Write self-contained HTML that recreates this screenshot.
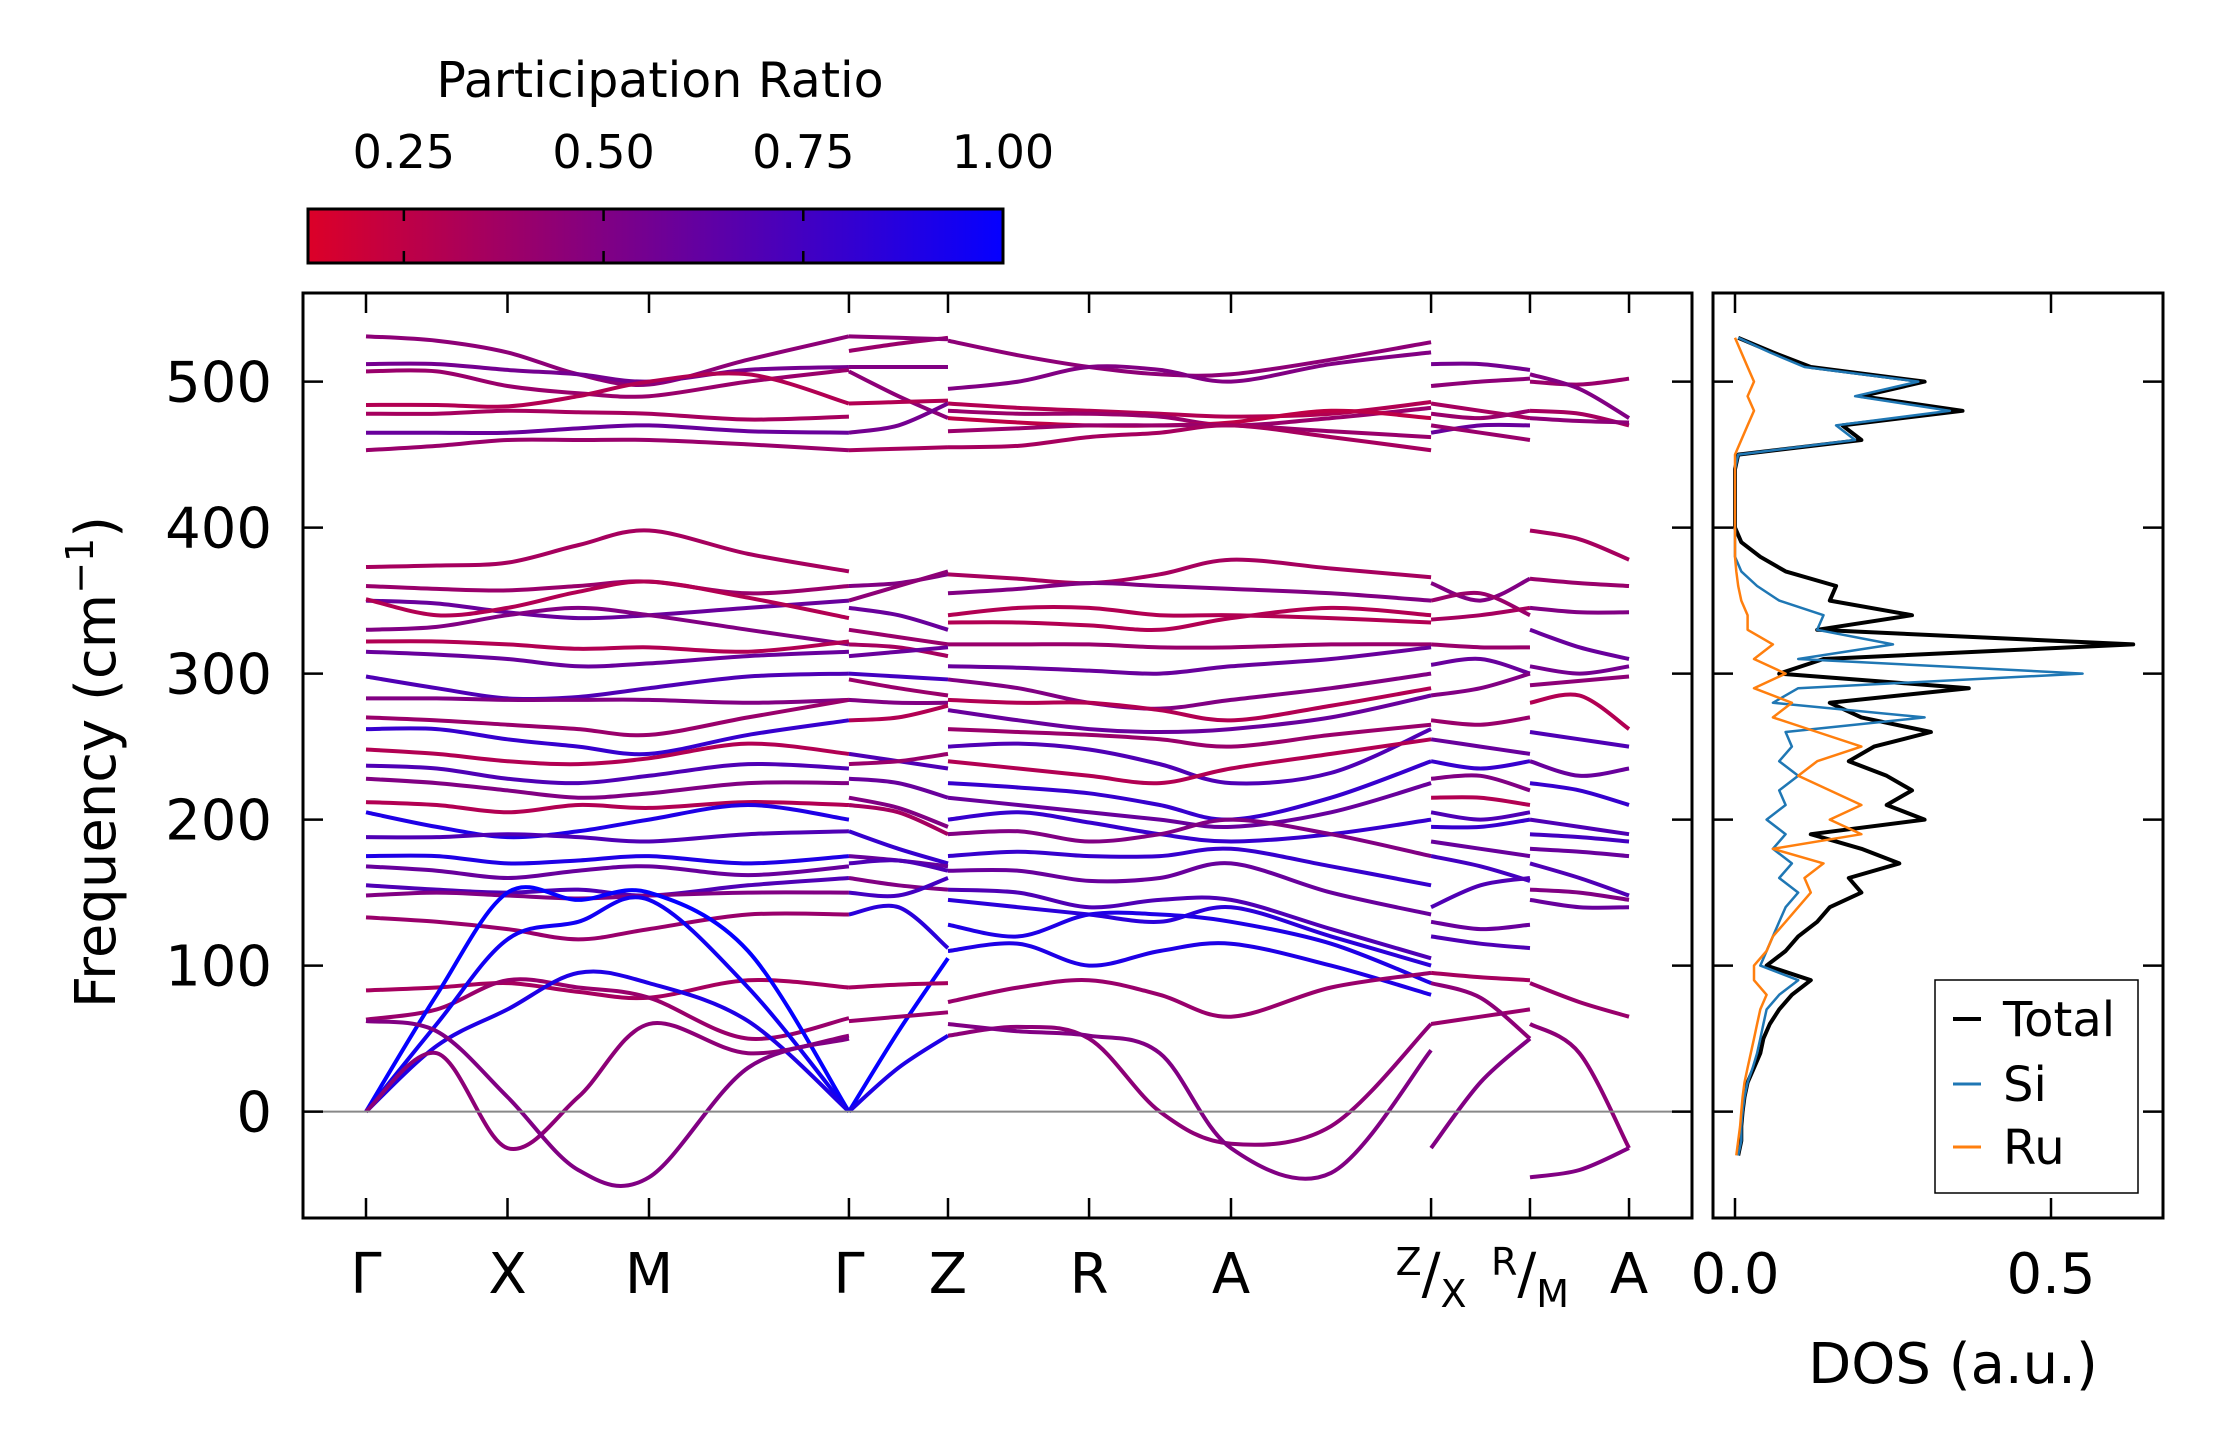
<!DOCTYPE html>
<html><head><meta charset="utf-8"><style>
html,body{margin:0;padding:0;background:#fff}
svg{display:block;font-family:"DejaVu Sans","Liberation Sans",sans-serif}
</style></head><body>
<svg id="chart" width="2222" height="1455" viewBox="0 0 2222 1455" xmlns="http://www.w3.org/2000/svg">
<defs>
<linearGradient id="cbgrad" x1="0" x2="1" y1="0" y2="0">
<stop offset="0" stop-color="rgb(220,0,40)"/><stop offset="1" stop-color="rgb(5,0,255)"/>
</linearGradient>
<clipPath id="clipMain"><rect x="303" y="293" width="1389" height="925"/></clipPath>
<clipPath id="clipDos"><rect x="1713" y="293" width="450" height="925"/></clipPath>
</defs>
<rect width="2222" height="1455" fill="#fff"/>
<g id="colorbar">
<text x="660" y="97" font-size="49" text-anchor="middle">Participation Ratio</text>
<rect x="308" y="209" width="695" height="54" fill="url(#cbgrad)" stroke="#000" stroke-width="3"/>
</g>
<g id="bands" clip-path="url(#clipMain)"></g>
<line x1="303" x2="1692" y1="1111.6" y2="1111.6" stroke="#888" stroke-width="2"/>
<g id="dos" clip-path="url(#clipDos)"></g>
<g id="axes"></g>
<g id="legend">
<rect x="1935" y="980" width="203" height="213" fill="#fff" stroke="#000" stroke-width="1.5"/>
<line x1="1953" x2="1981" y1="1019" y2="1019" stroke="#000" stroke-width="4"/>
<text x="2003" y="1036" font-size="48">Total</text>
<line x1="1953" x2="1981" y1="1084" y2="1084" stroke="#1f77b4" stroke-width="3"/>
<text x="2003" y="1101" font-size="48">Si</text>
<line x1="1953" x2="1981" y1="1147" y2="1147" stroke="#ff7f0e" stroke-width="3"/>
<text x="2003" y="1164" font-size="48">Ru</text>
</g>
</svg>
<script>
// ---- data ----
const cbTicks = [0.25, 0.50, 0.75, 1.00];
const cbTickLabels = ["0.25", "0.50", "0.75", "1.00"];
const yTicks = [0, 100, 200, 300, 400, 500];
const kTicks = [0, 1, 2, 3.413, 4.113, 5.11, 6.113, 7.527, 8.226, 8.926];
const kLabels = ["Γ", "X", "M", "Γ", "Z", "R", "A", "Z/X", "R/M", "A"];
const dosTicks = [0, 0.5];
const dosTickLabels = ["0.0", "0.5"];

const seg1K = [0, 0.5, 1, 1.5, 2, 2.7, 3.413];
const seg1Bands = [
[531,528,520,505,498,515,531],[512,512,508,505,500,508,510],[507,507,497,492,490,500,508],
[484,484,483,490,500,505,485],[478,478,480,479,478,474,476],[465,465,465,468,470,466,465],
[453,456,460,460,460,457,453],
[373,374,376,388,398,382,370],[360,358,357,360,363,355,360],[350,348,342,338,340,345,350],
[351,340,345,356,363,352,338],[330,332,340,345,340,330,320],[322,322,320,317,318,315,322],
[315,313,310,305,307,312,315],[298,290,283,284,290,298,300],[283,283,282,282,282,280,282],
[270,268,265,262,258,270,282],[262,262,255,250,245,258,268],[248,245,240,238,242,252,245],
[237,235,228,225,230,238,235],[228,225,220,215,218,225,225],[212,210,205,210,208,212,210],
[205,195,188,192,200,210,200],[188,188,190,188,185,190,192],[175,175,170,172,175,170,175],
[168,165,160,165,168,162,168],[155,152,150,152,148,155,160],[148,150,148,146,148,150,150],
[133,130,125,118,125,135,135],
[83,85,88,82,78,90,85],[63,70,90,85,78,50,64],
[0,80,150,145,150,110,0],[0,60,118,130,145,85,0],[0,45,70,95,88,62,0],
[0,40,-25,10,60,40,52],[62,55,10,-40,-45,30,50]
];
const seg1P = [.45,.55,.4,.3,.35,.6,.4,.35,.4,.6,.3,.5,.3,.6,.7,.5,.4,.8,.3,.7,.5,.3,.9,.7,.9,.6,.7,.5,.4,.35,.4,1,.95,.9,.45,.5];

const seg2K = [3.413, 3.763, 4.113];
const seg2Bands = [
[521,526,530],[531,530,529],[510,510,510],[507,490,475],[485,486,487],[465,470,485],[453,454,455],
[360,362,368],[350,360,370],[345,340,330],[330,325,320],[320,318,312],[312,315,318],[300,298,296],
[296,290,285],[282,280,280],[268,270,278],[245,240,235],[238,240,245],[228,225,215],[215,208,195],
[210,205,190],[192,180,170],[175,172,168],[170,172,165],[160,155,152],[150,148,160],[135,140,112],
[0,55,105],[62,65,68],[85,87,88],[0,30,52]
];
const seg2P = [.4,.45,.5,.45,.3,.55,.35,.5,.45,.6,.4,.35,.6,.75,.4,.5,.3,.7,.4,.6,.5,.35,.8,.6,.7,.5,.75,.85,1,.4,.35,.9];

const seg3K = [4.113, 4.61, 5.11, 5.61, 6.113, 6.82, 7.527];
const seg3Bands = [
[528,518,510,505,505,515,527],[495,500,510,508,500,512,520],[485,482,480,478,476,478,486],
[480,478,478,476,470,475,482],[475,472,470,470,472,480,475],[466,468,470,470,470,466,462],
[455,456,462,465,470,462,453],
[368,365,362,368,378,372,366],[355,358,362,360,358,355,350],[340,345,345,340,340,338,335],
[335,335,333,330,338,345,340],[320,320,320,318,318,320,320],[305,304,302,300,305,310,318],
[296,290,280,276,282,290,300],[282,280,280,275,268,278,290],[275,268,262,260,262,270,285],
[262,260,258,255,250,258,265],[250,252,248,238,225,232,262],[240,235,230,225,235,245,255],
[225,222,218,210,200,215,240],[215,210,205,200,195,205,225],[200,205,198,190,185,190,200],
[190,192,185,190,200,190,175],[175,178,175,175,180,168,155],[165,165,158,160,170,150,135],
[152,150,140,145,145,125,105],[145,140,135,130,140,120,100],[128,120,135,135,130,115,88],
[110,115,100,110,115,100,80],
[75,85,90,80,65,85,95],[52,58,50,0,-22,-10,60],[60,55,52,40,-25,-42,42]
];
const seg3P = [.45,.5,.3,.4,.25,.4,.35,.35,.5,.3,.3,.4,.6,.5,.3,.6,.4,.7,.3,.8,.6,.8,.5,.8,.6,.7,.85,.9,.9,.4,.45,.5];

const seg4K = [7.527, 7.876, 8.226];
const seg4Bands = [
[512,512,508],[497,500,502],[485,480,475],[478,475,480],[465,470,470],[470,465,460],
[362,350,365],[350,355,340],[337,340,345],[320,318,318],[306,310,300],[285,290,300],[268,265,270],
[255,250,245],[240,235,240],[228,230,220],[215,215,210],[205,200,205],[195,195,200],[185,180,175],
[175,168,158],[140,155,160],[130,125,128],[120,115,112],[95,92,90],[60,65,70],[88,78,50],[-25,20,50]
];
const seg4P = [.55,.45,.35,.4,.6,.4,.5,.4,.35,.4,.6,.5,.4,.6,.8,.5,.3,.7,.8,.6,.75,.7,.6,.7,.35,.4,.45,.5];

const seg5K = [8.226, 8.576, 8.926];
const seg5Bands = [
[500,498,502],[505,495,475],[480,478,470],[475,473,472],[398,392,378],[365,362,360],[345,342,342],
[330,318,310],[305,300,305],[292,295,298],[280,285,262],[260,255,250],[240,230,235],[225,220,210],
[200,195,190],[190,188,185],[180,178,175],[170,160,148],[152,150,145],[145,140,140],[88,75,65],
[60,40,-25],[-45,-40,-25]
];
const seg5P = [.4,.5,.35,.45,.35,.4,.5,.6,.55,.45,.3,.7,.6,.8,.7,.75,.6,.7,.5,.6,.4,.45,.5];

const dosFreq = [-30,-20,-10,0,10,20,30,40,50,60,70,80,90,100,110,120,130,140,150,160,170,180,190,200,210,220,230,240,250,260,270,280,290,300,310,320,330,340,350,360,370,380,390,400,410,420,430,440,450,460,470,480,490,500,510,520,530];
const dosTotal = [0.005,0.01,0.01,0.012,0.015,0.02,0.03,0.04,0.045,0.055,0.07,0.09,0.12,0.05,0.08,0.1,0.13,0.15,0.2,0.18,0.26,0.2,0.12,0.3,0.24,0.28,0.24,0.18,0.22,0.31,0.2,0.15,0.37,0.07,0.14,0.63,0.13,0.28,0.15,0.16,0.08,0.04,0.01,0,0,0,0,0,0.005,0.2,0.17,0.36,0.2,0.3,0.12,0.06,0.005];
const dosSi = [0.005,0.01,0.01,0.012,0.015,0.02,0.028,0.035,0.04,0.045,0.05,0.07,0.1,0.04,0.05,0.06,0.07,0.08,0.1,0.07,0.09,0.06,0.08,0.05,0.08,0.07,0.1,0.07,0.09,0.08,0.3,0.06,0.1,0.55,0.1,0.25,0.13,0.14,0.07,0.035,0.01,0,0,0,0,0,0,0,0.005,0.19,0.16,0.34,0.19,0.29,0.11,0.055,0.005];
const dosRu = [0.002,0.005,0.008,0.01,0.012,0.015,0.02,0.025,0.03,0.035,0.04,0.05,0.03,0.03,0.05,0.06,0.08,0.1,0.12,0.11,0.14,0.06,0.2,0.15,0.2,0.15,0.1,0.13,0.2,0.13,0.06,0.09,0.03,0.08,0.03,0.06,0.02,0.02,0.01,0.005,0.002,0,0,0,0,0,0,0,0,0.01,0.02,0.03,0.02,0.03,0.02,0.01,0];

// ---- scales ----
const NS = "http://www.w3.org/2000/svg";
const xK = k => 366 + k * 141.5;
const yF = f => 1111.6 - f * 1.46;
const xD = d => 1735 + d * 632;
const xCb = v => 308 + (v - 0.13) / 0.87 * 695;
function pcolor(p) {
  const t = Math.max(0, Math.min(1, (p - 0.13) / 0.87));
  return `rgb(${Math.round(220 - 215 * t)},0,${Math.round(40 + 215 * t)})`;
}
function mk(tag, attrs, parent) {
  const el = document.createElementNS(NS, tag);
  for (const a in attrs) el.setAttribute(a, attrs[a]);
  parent.appendChild(el);
  return el;
}
function crPath(pts) {
  let d = `M${pts[0][0]},${pts[0][1]}`;
  for (let i = 0; i < pts.length - 1; i++) {
    const p0 = pts[Math.max(0, i - 1)], p1 = pts[i], p2 = pts[i + 1], p3 = pts[Math.min(pts.length - 1, i + 2)];
    const c1x = p1[0] + (p2[0] - p0[0]) / 6, c1y = p1[1] + (p2[1] - p0[1]) / 6;
    const c2x = p2[0] - (p3[0] - p1[0]) / 6, c2y = p2[1] - (p3[1] - p1[1]) / 6;
    d += ` C${c1x},${c1y} ${c2x},${c2y} ${p2[0]},${p2[1]}`;
  }
  return d;
}

// ---- bands ----
const bandsG = document.getElementById('bands');
[[seg1K, seg1Bands, seg1P], [seg2K, seg2Bands, seg2P], [seg3K, seg3Bands, seg3P], [seg4K, seg4Bands, seg4P], [seg5K, seg5Bands, seg5P]].forEach((seg, si) => {
  const [ks, bands, ps] = seg;
  bands.forEach((b, bi) => {
    const pts = b.map((f, i) => [xK(ks[i]), yF(f)]);
    const path = mk('path', {d: crPath(pts), fill: 'none', stroke: pcolor(ps[bi] ?? 0.5), 'stroke-width': 4, 'stroke-linecap': 'butt'}, bandsG);
    
    
  });
});

// ---- DOS ----
const dosG = document.getElementById('dos');
function dosLine(vals, color, w, name) {
  const n = Math.min(vals.length, dosFreq.length);
  let pts = [];
  for (let i = 0; i < n; i++) pts.push(xD(vals[i]).toFixed(1) + ',' + yF(dosFreq[i]).toFixed(1));
  const pl = mk('polyline', {points: pts.join(' '), fill: 'none', stroke: color, 'stroke-width': w, 'stroke-linejoin': 'round'}, dosG);
  
  
}
dosLine(dosTotal, '#000', 4, 'dos-total-line');
dosLine(dosSi, '#1f77b4', 2.5, 'dos-si-line');
dosLine(dosRu, '#ff7f0e', 2.5, 'dos-ru-line');

// ---- axes ----
const ax = document.getElementById('axes');
const cb = document.getElementById('colorbar');
cbTicks.forEach((v, i) => {
  const x = xCb(v);
  const t = mk('line', {x1: x, x2: x, y1: 209, y2: 263, stroke: '#000', 'stroke-width': 2.5, 'stroke-dasharray': v >= 1 ? '0' : '12,30,12'}, cb);
  
  
  const lb = mk('text', {x: x, y: 168, 'font-size': 46, 'text-anchor': 'middle'}, cb);
  lb.textContent = cbTickLabels[i];
  
  
});

const mainFrame = mk('rect', {x: 303, y: 293, width: 1389, height: 925, fill: 'none', stroke: '#000', 'stroke-width': 3}, ax);


const dosFrame = mk('rect', {x: 1713, y: 293, width: 450, height: 925, fill: 'none', stroke: '#000', 'stroke-width': 3}, ax);



yTicks.forEach(v => {
  const y = yF(v);
  [[303, 323], [1672, 1692], [1713, 1733], [2143, 2163]].forEach(([a, b]) => {
    const t = mk('line', {x1: a, x2: b, y1: y, y2: y, stroke: '#000', 'stroke-width': 2.5}, ax);
    
    
  });
  const lb = mk('text', {x: 272, y: y + 20, 'font-size': 56, 'text-anchor': 'end'}, ax);
  lb.textContent = String(v);
  
  
});

kTicks.forEach((k, i) => {
  const x = xK(k);
  [[293, 313], [1198, 1218]].forEach(([a, b]) => {
    const t = mk('line', {x1: x, x2: x, y1: a, y2: b, stroke: '#000', 'stroke-width': 2.5}, ax);
    
    
  });
  const lab = kLabels[i];
  const lb = mk('text', {x: x, y: 1293, 'font-size': 56, 'text-anchor': 'middle'}, ax);
  
  
  if (lab.includes('/')) {
    const [a, b] = lab.split('/');
    const s1 = mk('tspan', {'font-size': 38, dy: -18}, lb); s1.textContent = a;
    const s2 = mk('tspan', {'font-size': 56, dy: 18}, lb); s2.textContent = '/';
    const s3 = mk('tspan', {'font-size': 38, dy: 14}, lb); s3.textContent = b;
  } else lb.textContent = lab;
});

dosTicks.forEach((d, i) => {
  const x = xD(d);
  [[293, 313], [1198, 1218]].forEach(([a, b]) => {
    const t = mk('line', {x1: x, x2: x, y1: a, y2: b, stroke: '#000', 'stroke-width': 2.5}, ax);
    
    
  });
  const lb = mk('text', {x: x, y: 1293, 'font-size': 56, 'text-anchor': 'middle'}, ax);
  lb.textContent = dosTickLabels[i];
  
  
});

const yl = mk('text', {x: 0, y: 0, 'font-size': 56, 'text-anchor': 'middle', transform: 'translate(115,762) rotate(-90)'}, ax);


const y1 = mk('tspan', {}, yl); y1.textContent = 'Frequency (cm';
const y2 = mk('tspan', {'font-size': 38, dy: -22}, yl); y2.textContent = '−1';
const y3 = mk('tspan', {dy: 22}, yl); y3.textContent = ')';

const dl = mk('text', {x: 1953, y: 1383, 'font-size': 56, 'text-anchor': 'middle'}, ax);
dl.textContent = 'DOS (a.u.)';


</script>
</body></html>
